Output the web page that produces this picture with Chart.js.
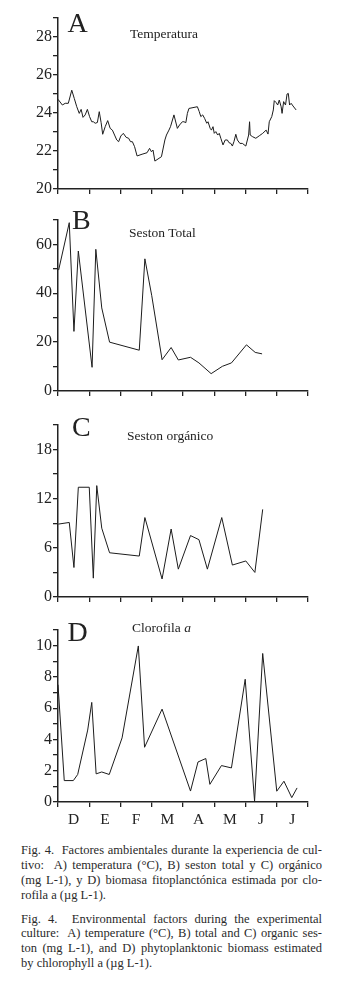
<!DOCTYPE html>
<html><head><meta charset="utf-8">
<script src="https://cdn.jsdelivr.net/npm/chart.js@4.4.1/dist/chart.umd.min.js"></script>
<style>
html,body{margin:0;padding:0;background:#fff;}
body{width:337px;height:989px;position:relative;overflow:hidden;font-family:"Liberation Serif","Times New Roman",serif;color:#222;}
canvas{position:absolute;left:0;}
.lbl{position:absolute;white-space:nowrap;line-height:1;color:#222;}
.big{font-size:28px;}
.ttl{font-size:13.5px;}
.cap{position:absolute;left:21px;width:301px;font-size:12.5px;line-height:14.7px;color:#2a2a2a;}
.cap div{text-align:justify;text-align-last:justify;white-space:nowrap;}
.cap div.last{text-align-last:left;}
</style></head>
<body>
<canvas id="cA" width="337" height="200" style="top:0px"></canvas>
<canvas id="cB" width="337" height="205" style="top:200px"></canvas>
<canvas id="cC" width="337" height="205" style="top:405px"></canvas>
<canvas id="cD" width="337" height="225" style="top:610px"></canvas>

<div class="lbl big" style="left:67.5px;top:8.5px">A</div>
<div class="lbl ttl" style="left:130px;top:27px">Temperatura</div>
<div class="lbl big" style="left:72px;top:205.5px">B</div>
<div class="lbl ttl" style="left:129px;top:226.4px">Seston Total</div>
<div class="lbl big" style="left:72px;top:412.5px">C</div>
<div class="lbl ttl" style="left:127px;top:429.2px">Seston orgánico</div>
<div class="lbl big" style="left:67.5px;top:618.2px">D</div>
<div class="lbl ttl" style="left:132px;top:621px">Clorofila <i>a</i></div>

<div class="cap" style="top:843.4px">
<div>Fig. 4.&nbsp; Factores ambientales durante la experiencia de cul-</div>
<div>tivo:&nbsp; A) temperatura (°C), B) seston total y C) orgánico</div>
<div>(mg L-1), y D) biomasa fitoplanctónica estimada por clo-</div>
<div class="last">rofila a (µg L-1).</div>
</div>
<div class="cap" style="top:911.7px">
<div>Fig. 4.&nbsp; Environmental factors during the experimental</div>
<div>culture:&nbsp; A) temperature (°C), B) total and C) organic ses-</div>
<div>ton (mg L-1), and D) phytoplanktonic biomass estimated</div>
<div class="last">by chlorophyll a (µg L-1).</div>
</div>

<script>
// Month tick labels (x axis, months from December)
const months = ['D','E','F','M','A','M','J','J'];

// A) Temperature (°C) — x in months since start of December
const tempX = [0.00,0.14,0.23,0.33,0.44,0.52,0.60,0.68,0.74,0.80,0.87,0.94,1.01,1.08,1.13,1.19,1.26,1.32,1.38,1.43,
  1.51,1.59,1.67,1.74,1.81,1.88,1.94,2.01,2.09,2.18,2.26,2.32,2.38,2.45,2.53,2.69,2.85,2.93,2.99,3.04,
  3.10,3.31,3.42,3.47,3.55,3.60,3.71,3.82,3.89,3.98,4.03,4.09,4.14,4.19,4.46,4.52,4.57,4.63,4.69,4.76,
  4.80,4.87,4.91,4.96,5.00,5.05,5.11,5.16,5.21,5.28,5.35,5.42,5.47,5.53,5.58,5.63,5.69,5.74,5.82,5.90,
  6.01,6.10,6.13,6.15,6.23,6.33,6.44,6.55,6.66,6.72,6.76,6.84,6.89,6.92,6.98,7.03,7.08,7.14,7.17,7.22,
  7.28,7.33,7.37,7.41,7.46,7.52,7.62];
const tempY = [24.72,24.42,24.51,24.51,25.20,24.77,24.33,23.98,24.19,23.77,23.90,24.19,23.81,23.54,23.54,23.46,23.50,24.07,23.49,22.88,
  23.28,23.60,23.19,23.10,22.84,22.58,22.49,22.79,22.93,22.72,22.67,22.49,22.49,22.23,21.74,21.83,21.91,22.14,21.96,22.05,
  21.47,21.70,22.58,22.84,23.10,23.28,23.90,23.19,23.37,23.54,23.54,23.49,23.98,24.24,24.33,24.07,23.81,23.90,23.72,23.46,
  23.54,23.19,23.10,23.28,22.93,23.02,22.84,22.93,22.67,22.32,22.58,22.58,22.44,22.40,22.26,22.49,22.88,22.58,22.40,22.40,
  22.26,22.84,23.54,22.84,22.75,22.67,22.80,22.93,23.10,22.89,23.54,23.81,24.16,24.65,24.55,24.42,24.68,24.33,23.98,24.60,
  24.42,25.00,25.03,24.42,24.51,24.37,24.16];

// B) Total seston (mg L-1)
const sestonX = [0.02,0.36,0.51,0.65,1.09,1.21,1.40,1.65,2.60,2.78,3.00,3.33,3.62,3.85,4.24,4.51,4.90,5.26,5.55,6.03,6.31,6.53];
const sestonY = [49.5,68.9,24.4,57.3,9.7,58.0,34.0,20.0,16.7,54.1,39.0,12.8,17.8,12.7,13.8,11.5,7.1,10.1,11.5,18.9,15.8,15.2];

// C) Organic seston (mg L-1)
const orgX = [0.01,0.36,0.51,0.65,1.00,1.13,1.24,1.40,1.65,2.60,2.78,3.33,3.62,3.85,4.24,4.51,4.78,5.24,5.58,6.01,6.30,6.55];
const orgY = [8.9,9.1,3.6,13.4,13.4,2.3,13.6,8.4,5.4,5.0,9.7,2.2,8.3,3.4,7.5,7.0,3.4,9.7,3.9,4.4,3.0,10.7];

// D) Chlorophyll a (µg L-1)
const chlX = [0.00,0.20,0.49,0.63,0.95,1.08,1.22,1.40,1.64,2.05,2.57,2.77,3.33,4.24,4.48,4.73,4.86,5.23,5.55,5.99,6.29,6.55,7.00,7.23,7.48,7.65];
const chlY = [7.5,1.37,1.37,1.76,4.6,6.37,1.8,1.92,1.76,4.1,9.98,3.5,5.94,0.7,2.56,2.78,1.13,2.33,2.18,7.85,0.05,9.5,0.69,1.33,0.28,0.9];

const YFONT = {family:'"Liberation Serif","Times New Roman",serif', size:16};
const XFONT = {family:'"Liberation Serif","Times New Roman",serif', size:15.5};
const INK = '#222';

function makeChart(id, xs, ys, yMin, yMax, step, labelEvery, topPad, xHeight, showMonths){
  const pts = xs.map((x,i)=>({x:x, y:ys[i]}));
  return new Chart(document.getElementById(id), {
    type:'line',
    data:{datasets:[{data:pts, xAxisID:'x', yAxisID:'y', borderColor:'#1c1c1c', borderWidth:1,
      pointRadius:0, tension:0, fill:false}]},
    options:{
      responsive:false, animation:false, devicePixelRatio:1,
      layout:{padding:{top:topPad, left:0, right:29, bottom:0}},
      plugins:{legend:{display:false}, tooltip:{enabled:false}},
      scales:{
        x:{type:'linear', display:false, min:0, max:8},
        xc:{type:'category', labels:months, position:'bottom', offset:true,
          grid:{offset:true, drawOnChartArea:false, drawTicks:true, tickLength:5, color:INK, tickColor:INK, lineWidth:1.3, tickWidth:1.3},
          border:{display:true, color:INK, width:1.5},
          ticks:{autoSkip:false, maxRotation:0, minRotation:0, padding:4, font:XFONT, color:INK,
            callback:(v,i)=> showMonths ? months[i] : ''},
          afterFit:(s)=>{ s.height = xHeight; }
        },
        y:{type:'linear', position:'left', min:yMin, max:yMax,
          grid:{drawOnChartArea:false, drawTicks:true, tickLength:5, color:INK, tickColor:INK, lineWidth:1.3, tickWidth:1.3},
          border:{display:true, color:INK, width:1.5},
          ticks:{stepSize:step, autoSkip:false, padding:1, font:YFONT, color:INK,
            callback:(v)=> (Math.round(v - yMin) % labelEvery === 0 ? String(v) : '')},
          afterFit:(s)=>{ s.width = 58; }
        }
      }
    }
  });
}

makeChart('cA', tempX, tempY, 20, 29, 1, 2, 18, 11, false);
makeChart('cB', sestonX, sestonY, 0, 70, 10, 20, 20, 14, false);
makeChart('cC', orgX, orgY, 0, 21, 3, 6, 20, 13, false);
makeChart('cD', chlX, chlY, 0, 11, 1, 2, 20, 33, true);
</script>
</body></html>
